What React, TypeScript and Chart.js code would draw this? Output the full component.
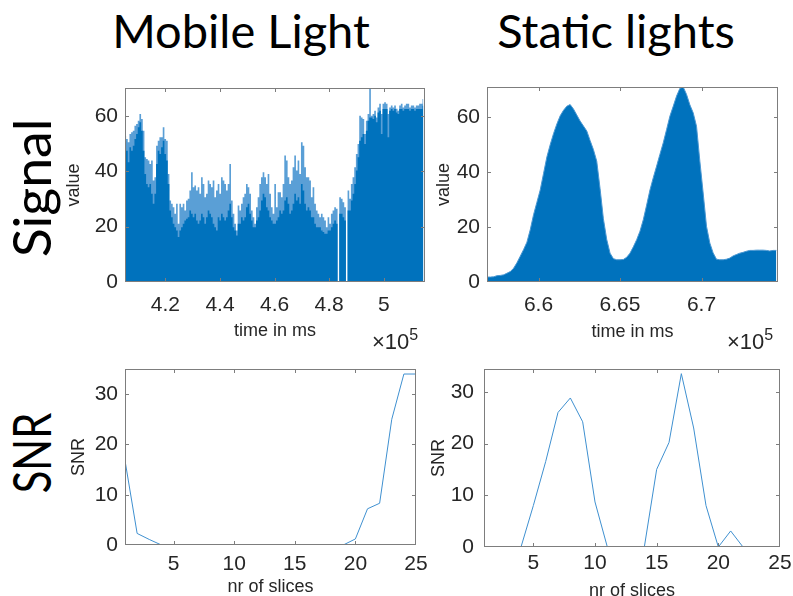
import React, { useEffect, useRef } from "react";
import { Chart, registerables } from "chart.js";
Chart.register(...registerables);

// ---------- data ----------
// Mobile light signal: sampled every MOBILE_DT ms from MOBILE_T0
const MOBILE_T0 = 405300;
const MOBILE_DT = 610;
const mobilePeak = [
  52.8, 51.6, 50.4, 53.4, 54.0, 54.6, 56.4, 57.0, 58.2, 60.6,
  58.8, 54.6, 45.0, 44.4, 43.8, 42.6, 43.8, 36.6, 37.8, 49.2,
  51.0, 52.2, 52.2, 55.8, 51.6, 51.0, 39.0, 29.4, 28.2, 27.0,
  24.6, 28.2, 21.0, 28.2, 27.0, 28.2, 25.8, 29.4, 30.0, 33.0,
  39.6, 34.2, 34.8, 33.0, 34.2, 31.8, 37.8, 35.4, 30.6, 31.8,
  36.6, 35.4, 34.2, 36.6, 30.6, 33.0, 35.4, 31.8,
  37.8, 36.6, 35.4, 33.0, 35.4, 42.6, 29.4, 24.6, 21.0, 18.6,
  27.6, 25.8, 28.2, 30.6, 31.8, 35.4, 34.2, 31.8, 25.8, 23.4,
  21.0, 27.0, 30.6, 35.4, 37.8, 39.6, 37.8, 35.4, 39.0, 31.8,
  27.0, 24.6, 35.4, 27.0, 32.4, 32.4, 30.6, 35.4, 45.6, 43.8,
  37.8, 35.4, 36.6, 41.4, 45.6, 40.2, 43.8, 39.0, 50.4, 49.2,
  41.4, 37.8, 37.8, 36.6, 30.6, 34.2, 28.2, 25.8, 24.6, 23.4,
  24.6, 23.4, 22.2, 19.8, 23.4, 21.0, 24.6, 25.8, 27.0, 26.4,
  0, 30.6, 30.0, 28.8, 27.0, 0, 33.0, 30.0, 35.4, 37.8,
  41.4, 46.2, 49.8, 60.0, 59.4, 58.8, 53.4, 58.2, 60.6, 69.7,
  60.0, 60.6, 61.8, 59.4, 63.0, 64.3, 60.6, 64.3, 64.9, 64.3,
  60.6, 63.0, 63.7, 63.0, 63.7, 62.5, 61.8, 63.7, 64.3, 63.0,
  63.7, 64.3, 64.3, 63.0, 63.7, 63.7, 63.0, 63.7, 63.7, 64.3,
  64.3, 66.0,
];
const mobileBase = [
  51.0, 47.4, 43.2, 48.6, 47.4, 49.2, 51.6, 53.4, 55.8, 57.6,
  54.6, 47.4, 39.0, 35.4, 34.2, 35.4, 31.8, 28.2, 31.8, 42.6,
  47.4, 46.2, 48.6, 51.0, 46.2, 43.8, 35.4, 25.8, 23.4, 21.0,
  19.8, 18.6, 16.2, 18.6, 19.8, 21.0, 22.2, 22.8, 23.4, 25.8,
  24.6, 23.4, 24.6, 22.2, 21.0, 22.2, 24.6, 23.4, 21.0, 23.4,
  25.8, 24.6, 23.4, 21.0, 19.8, 18.6, 23.4, 22.2,
  24.6, 23.4, 22.2, 23.4, 25.8, 28.2, 23.4, 19.8, 18.6, 16.8,
  21.0, 21.0, 23.4, 22.2, 23.4, 27.0, 28.2, 24.6, 22.2, 19.8,
  19.8, 22.2, 23.4, 25.8, 29.4, 31.8, 30.6, 27.0, 25.8, 23.4,
  22.2, 21.0, 21.0, 22.2, 23.4, 25.8, 24.6, 25.8, 29.4, 30.6,
  28.2, 24.6, 25.8, 28.2, 31.8, 29.4, 30.6, 28.2, 35.4, 33.0,
  28.2, 25.8, 27.0, 25.8, 23.4, 23.4, 21.0, 19.8, 19.8, 19.8,
  18.6, 18.0, 17.4, 17.4, 18.6, 18.6, 19.8, 21.0, 22.2, 21.0,
  0, 24.6, 24.6, 23.4, 22.2, 0, 25.8, 25.8, 29.4, 31.8,
  35.4, 40.2, 45.0, 51.0, 52.2, 53.4, 49.8, 54.6, 58.2, 59.4,
  59.4, 58.8, 60.0, 57.6, 61.2, 61.8, 53.4, 62.4, 62.4, 62.4,
  52.2, 61.8, 62.4, 61.8, 62.4, 61.2, 60.6, 62.4, 62.4, 61.8,
  62.4, 62.4, 62.4, 61.8, 62.4, 62.4, 61.8, 62.4, 62.4, 62.4,
  62.4, 63.6,
];

// Static lights signal: sampled every STATIC_DT ms from STATIC_T0
const STATIC_T0 = 656840;
const STATIC_DT = 204;
const staticSignal = [
  1.8, 1.8, 1.9, 2.3, 2.4, 2.6, 3.2, 3.8, 5.0, 7.0,
  9.4, 11.8, 14.5, 19.0, 24.5, 29.0, 33.5, 39.5, 45.5, 50.0,
  54.0, 57.5, 60.5, 62.5, 64.0, 64.6, 63.0, 60.8, 58.6, 56.8,
  55.0, 51.5, 48.2, 44.0, 34.0, 23.0, 15.5, 10.5, 8.5, 8.1,
  8.1, 8.2, 9.0, 10.5, 12.8, 15.4, 18.5, 22.7, 28.0, 33.5,
  38.0, 42.2, 46.5, 50.7, 55.5, 60.4, 64.0, 67.7, 70.5, 71.0,
  68.3, 64.5, 61.6, 56.7, 44.0, 32.4, 20.3, 14.2, 10.6, 8.3,
  8.1, 8.1, 8.3, 8.7, 9.5, 10.0, 10.5, 10.8, 11.2, 11.5,
  11.5, 11.6, 11.6, 11.6, 11.5, 11.3, 11.5, 11.5,
];

const slices = [1, 2, 3, 4, 5, 6, 7, 8, 9, 10, 11, 12, 13, 14, 15, 16, 17, 18, 19, 20, 21, 22, 23, 24, 25];
const snrMobile = [16.8, 2.3, 1.1, 0, 0, 0, 0, 0, 0, 0, 0, 0, 0, 0, 0, 0, 0, 0, 0, 1.2, 7.2, 8.3, 25.0, 34.0, 34.0];
const snrStatic = [0, 0, 0, 0, 8.0, 16.5, 26.0, 28.8, 24.2, 8.7, 0, 0, 0, 0, 15.0, 20.2, 33.5, 23.0, 8.0, 0, 3.1, 0, 0, 0, 0];

const mobileTimeTicks = [420000, 440000, 460000, 480000, 500000];
const mobileTimeLabels = ["4.2", "4.4", "4.6", "4.8", "5"];
const staticTimeTicks = [660000, 665000, 670000];
const staticTimeLabels = ["6.6", "6.65", "6.7"];
const signalTicks = [0, 20, 40, 60];
const snrTicks = [0, 10, 20, 30];
const sliceTicks = [5, 10, 15, 20, 25];

// ---------- styling ----------
const INK = "#262626";
const BOX = "#7d7d7d";
const AX_FAMILY = '"Liberation Sans", Arial, Helvetica, sans-serif';
const TICK_FONT = { family: AX_FAMILY, size: 21 };
const TITLE_FONT = { family: AX_FAMILY, size: 18, lineHeight: 1 };
const DARK = "#0072BD";
const LIGHT = "#5a9fd6";

const boxPlugin = {
  id: "matlabBox",
  afterDraw(chart: any) {
    const { ctx, chartArea: a, scales } = chart;
    const L = Math.floor(a.left) + 0.5;
    const R = Math.floor(a.right) - 0.5;
    const T = Math.floor(a.top) + 0.5;
    const B = Math.floor(a.bottom) - 0.5;
    ctx.save();
    ctx.strokeStyle = BOX;
    ctx.lineWidth = 1;
    ctx.strokeRect(L, T, R - L, B - T);
    const tl = 3.5;
    ctx.beginPath();
    scales.x.ticks.forEach((t: any) => {
      const px = Math.round(scales.x.getPixelForValue(t.value)) + 0.5;
      if (px <= L + 1 || px >= R - 1) return;
      ctx.moveTo(px, B);
      ctx.lineTo(px, B - tl);
      ctx.moveTo(px, T);
      ctx.lineTo(px, T + tl);
    });
    scales.y.ticks.forEach((t: any) => {
      const py = Math.round(scales.y.getPixelForValue(t.value)) + 0.5;
      if (py <= T + 1 || py >= B - 1) return;
      ctx.moveTo(L, py);
      ctx.lineTo(L + tl, py);
      ctx.moveTo(R, py);
      ctx.lineTo(R - tl, py);
    });
    ctx.stroke();
    ctx.restore();
  },
};

type PanelCfg = {
  width: number;
  height: number;
  pad: { top: number; right: number };
  yWidth: number;
  xHeight: number;
  xMin: number;
  xMax: number;
  yMin: number;
  yMax: number;
  xTicks: number[];
  xLabels: string[];
  yTicks: number[];
  xTickPad: number;
  yTickPad: number;
  xTitle: string;
  yTitle: string;
  xTitlePad: number;
  yTitlePad: number;
  datasets: any[];
};

function buildConfig(c: PanelCfg): any {
  return {
    type: "line",
    data: { datasets: c.datasets },
    plugins: [boxPlugin],
    options: {
      animation: false,
      responsive: false,
      events: [],
      layout: { padding: { top: c.pad.top, right: c.pad.right, left: 0, bottom: 0 } },
      plugins: { legend: { display: false }, tooltip: { enabled: false } },
      elements: { point: { radius: 0 } },
      scales: {
        x: {
          type: "linear",
          min: c.xMin,
          max: c.xMax,
          afterBuildTicks: (s: any) => {
            s.ticks = c.xTicks.map((v) => ({ value: v }));
          },
          afterFit: (s: any) => {
            s.height = c.xHeight;
            s.paddingLeft = 0;
            s.paddingRight = 0;
            s.paddingTop = 0;
            s.paddingBottom = 0;
          },
          grid: { display: false, drawTicks: false },
          border: { display: false },
          ticks: {
            font: TICK_FONT,
            color: INK,
            padding: c.xTickPad,
            maxRotation: 0,
            autoSkip: false,
            callback: (_v: any, i: number) => c.xLabels[i],
          },
          title: {
            display: true,
            text: c.xTitle,
            font: TITLE_FONT,
            color: INK,
            padding: { top: 0, bottom: c.xTitlePad },
          },
        },
        y: {
          type: "linear",
          min: c.yMin,
          max: c.yMax,
          afterBuildTicks: (s: any) => {
            s.ticks = c.yTicks.map((v) => ({ value: v }));
          },
          afterFit: (s: any) => {
            s.width = c.yWidth;
            s.paddingLeft = 0;
            s.paddingRight = 0;
            s.paddingTop = 0;
            s.paddingBottom = 0;
          },
          grid: { display: false, drawTicks: false },
          border: { display: false },
          ticks: {
            font: TICK_FONT,
            color: INK,
            padding: c.yTickPad,
            autoSkip: false,
            callback: (v: any) => String(v),
          },
          title: {
            display: true,
            text: c.yTitle,
            font: TITLE_FONT,
            color: INK,
            padding: { top: c.yTitlePad, bottom: 0 },
          },
        },
      },
    },
  };
}

function Panel({ left, top, cfg }: { left: number; top: number; cfg: PanelCfg }) {
  const ref = useRef<HTMLCanvasElement>(null);
  useEffect(() => {
    const chart = new Chart(ref.current as HTMLCanvasElement, buildConfig(cfg));
    return () => chart.destroy();
  }, []);
  return (
    <canvas
      ref={ref}
      width={cfg.width}
      height={cfg.height}
      style={{ position: "absolute", left, top, width: cfg.width, height: cfg.height, display: "block" }}
    />
  );
}

const series = (values: number[], t0: number, dt: number) => values.map((y, i) => ({ x: t0 + i * dt, y }));

const mobileSignalCfg: PanelCfg = {
  width: 380,
  height: 280,
  pad: { top: 8, right: 15 },
  yWidth: 65,
  xHeight: 78,
  xMin: 405200,
  xMax: 515100,
  yMin: 0,
  yMax: 70,
  xTicks: mobileTimeTicks,
  xLabels: mobileTimeLabels,
  yTicks: signalTicks,
  xTickPad: 11,
  yTickPad: 7,
  xTitle: "time in ms",
  yTitle: "value",
  xTitlePad: 20,
  yTitlePad: 5,
  datasets: [
    {
      data: series(mobileBase, MOBILE_T0, MOBILE_DT),
      backgroundColor: DARK,
      borderWidth: 0,
      fill: "origin",
      stepped: "middle",
    },
    {
      data: series(mobilePeak, MOBILE_T0, MOBILE_DT),
      backgroundColor: LIGHT,
      borderWidth: 0,
      fill: "origin",
      stepped: "middle",
    },
  ],
};

const staticSignalCfg: PanelCfg = {
  width: 363,
  height: 280,
  pad: { top: 7, right: 15 },
  yWidth: 57,
  xHeight: 78,
  xMin: 656840,
  xMax: 674690,
  yMin: 0,
  yMax: 71,
  xTicks: staticTimeTicks,
  xLabels: staticTimeLabels,
  yTicks: signalTicks,
  xTickPad: 11,
  yTickPad: 7,
  xTitle: "time in ms",
  yTitle: "value",
  xTitlePad: 19,
  yTitlePad: 5,
  datasets: [
    {
      data: series(staticSignal, STATIC_T0, STATIC_DT),
      backgroundColor: DARK,
      borderColor: "#4a97d2",
      borderWidth: 1,
      fill: "origin",
      tension: 0,
    },
  ],
};

const snrLine = (values: number[]) => ({
  data: slices.map((x, i) => ({ x, y: values[i] })),
  borderColor: "#3f90d0",
  borderWidth: 1,
  fill: false,
  tension: 0,
});

const mobileSnrCfg: PanelCfg = {
  width: 380,
  height: 236,
  pad: { top: 9, right: 24 },
  yWidth: 65,
  xHeight: 51,
  xMin: 1,
  xMax: 25,
  yMin: 0,
  yMax: 35,
  xTicks: sliceTicks,
  xLabels: sliceTicks.map(String),
  yTicks: snrTicks,
  xTickPad: 7,
  yTickPad: 7,
  xTitle: "nr of slices",
  yTitle: "SNR",
  xTitlePad: 0,
  yTitlePad: 10,
  datasets: [snrLine(snrMobile)],
};

const staticSnrCfg: PanelCfg = {
  width: 363,
  height: 236,
  pad: { top: 9, right: 13 },
  yWidth: 54,
  xHeight: 49,
  xMin: 1,
  xMax: 25,
  yMin: 0,
  yMax: 34.4,
  xTicks: sliceTicks,
  xLabels: sliceTicks.map(String),
  yTicks: snrTicks,
  xTickPad: 4,
  yTickPad: 10,
  xTitle: "nr of slices",
  yTitle: "SNR",
  xTitlePad: -4,
  yTitlePad: 0,
  datasets: [snrLine(snrStatic)],
};

const BIG = '"Lato", "Noto Sans", sans-serif';

function Heading({ x, top, text }: { x: number; top: number; text: string }) {
  return (
    <div
      style={{
        position: "absolute",
        left: x,
        top,
        transform: "translateX(-50%)",
        font: `47px ${BIG}`,
        lineHeight: "47px",
        whiteSpace: "nowrap",
        color: "#000",
      }}
    >
      {text}
    </div>
  );
}

function RowLabel({ cx, cy, text, size, squeeze }: { cx: number; cy: number; text: string; size: number; squeeze: number }) {
  return (
    <div
      style={{
        position: "absolute",
        left: cx,
        top: cy,
        transform: `translate(-50%, -50%) rotate(-90deg) scale(${squeeze}, 1)`,
        font: `${size}px ${BIG}`,
        lineHeight: `${size}px`,
        whiteSpace: "nowrap",
        color: "#000",
      }}
    >
      {text}
    </div>
  );
}

function Exponent({ left, top }: { left: number; top: number }) {
  return (
    <div
      style={{
        position: "absolute",
        left,
        top,
        font: `22px ${AX_FAMILY}`,
        lineHeight: "22px",
        color: INK,
        whiteSpace: "nowrap",
      }}
    >
      ×10
      <span style={{ fontSize: 16, position: "relative", top: -9 }}>5</span>
    </div>
  );
}

export default function App() {
  return (
    <div
      style={{
        position: "absolute",
        left: 0,
        top: 0,
        width: 793,
        height: 596,
        background: "#fff",
        overflow: "hidden",
      }}
    >
      <Heading x={241} top={7} text="Mobile Light" />
      <Heading x={616} top={7} text="Static lights" />
      <RowLabel cx={31} cy={188} text="Signal" size={52} squeeze={1.03} />
      <RowLabel cx={31} cy={453} text="SNR" size={52} squeeze={0.8} />
      <Panel left={60} top={80} cfg={mobileSignalCfg} />
      <Panel left={430} top={80} cfg={staticSignalCfg} />
      <Panel left={60} top={360} cfg={mobileSnrCfg} />
      <Panel left={430} top={360} cfg={staticSnrCfg} />
      <Exponent left={372} top={331} />
      <Exponent left={727} top={331} />
    </div>
  );
}
